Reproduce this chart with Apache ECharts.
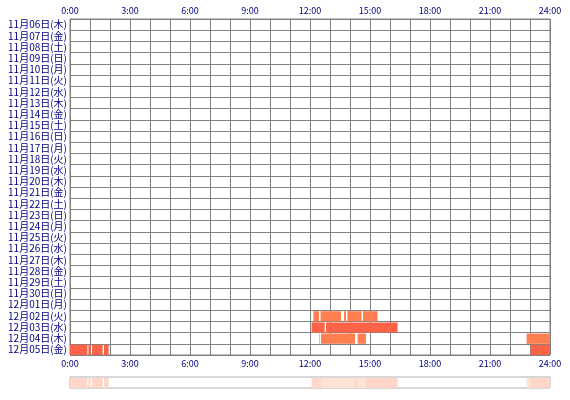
<!DOCTYPE html><html><head><meta charset="utf-8"><script src="https://cdn.jsdelivr.net/npm/echarts@6/dist/echarts.min.js"></script></head><body style="margin:0"><div id="c" style="width:570px;height:400px"></div><script>
var days=['11月06日(木)','11月07日(金)','11月08日(土)','11月09日(日)','11月10日(月)','11月11日(火)','11月12日(水)','11月13日(木)','11月14日(金)','11月15日(土)','11月16日(日)','11月17日(月)','11月18日(火)','11月19日(水)','11月20日(木)','11月21日(金)','11月22日(土)','11月23日(日)','11月24日(月)','11月25日(火)','11月26日(水)','11月27日(木)','11月28日(金)','11月29日(土)','11月30日(日)','12月01日(月)','12月02日(火)','12月03日(水)','12月04日(木)','12月05日(金)'];
var hourTicks=['0:00','3:00','6:00','9:00','12:00','15:00','18:00','21:00','24:00'];
// [dayIndex, startHour, endHour, level]
var segments=[
[26,12.17,12.45,1],[26,12.53,13.55,1],[26,13.7,13.8,1],[26,13.87,14.58,1],[26,14.65,15.38,1],
[27,12.08,12.73,2],[27,12.8,16.38,2],
[28,12.47,12.5,1],[28,12.55,14.25,1],[28,14.38,14.8,1],[28,22.83,24,1],
[29,0,0.87,2],[29,0.92,1.03,2],[29,1.1,1.63,2],[29,1.7,1.93,2],[29,23.03,24,2]
];
var colors={1:'#ff7f50',2:'#ff6347'};
var light={1:'#ffe4d6',2:'#ffd6c8'};
function fmt(v){return v%3===0?hourTicks[v/3]:'';}
var ax=function(pos,gi){return {type:'value',gridIndex:gi,position:pos,min:0,max:24,interval:1,
 axisLine:{show:false},axisTick:{show:false},splitLine:{show:gi===0,lineStyle:{color:'#808080',width:1}},
 axisLabel:{show:gi===0,formatter:fmt,color:'#000080',fontSize:9,fontFamily:'Noto Sans CJK JP',margin:4}};};
var chart=echarts.init(document.getElementById('c'));
chart.setOption({animation:false,
grid:[{left:70,right:20,top:19,height:336,show:true,borderColor:'#808080',borderWidth:1},
 {left:70,right:20,top:377,height:11,show:true,borderColor:'#b0b0b0',borderWidth:1}],
xAxis:[ax('top',0),ax('bottom',0),ax('bottom',1)],
yAxis:[{type:'category',gridIndex:0,data:days,inverse:true,axisLine:{show:false},axisTick:{show:false},
 splitLine:{show:true,interval:0,lineStyle:{color:'#808080'}},
 axisLabel:{color:'#000080',fontSize:10,fontFamily:'Noto Sans CJK JP',margin:3,interval:0}},
 {type:'category',gridIndex:1,data:['all'],axisLine:{show:false},axisTick:{show:false},axisLabel:{show:false}}],
series:[{type:'custom',xAxisIndex:0,yAxisIndex:0,data:segments,renderItem:function(p,api){
 var d=api.value(0),s=api.coord([api.value(1),d]),e=api.coord([api.value(2),d]);var h=api.size([0,1])[1];
 return {type:'rect',shape:{x:s[0],y:s[1]-h/2+1,width:e[0]-s[0],height:h-1},style:{fill:colors[api.value(3)]}};},encode:{x:[1,2],y:0}},
 {type:'custom',xAxisIndex:2,yAxisIndex:1,data:segments,renderItem:function(p,api){
 var s=api.coord([api.value(1),0]),e=api.coord([api.value(2),0]);var h=api.size([0,1])[1];
 return {type:'rect',shape:{x:s[0],y:s[1]-h/2+1,width:e[0]-s[0],height:h-1},style:{fill:light[api.value(3)]}};},encode:{x:[1,2]}}]
});
</script></body></html>
